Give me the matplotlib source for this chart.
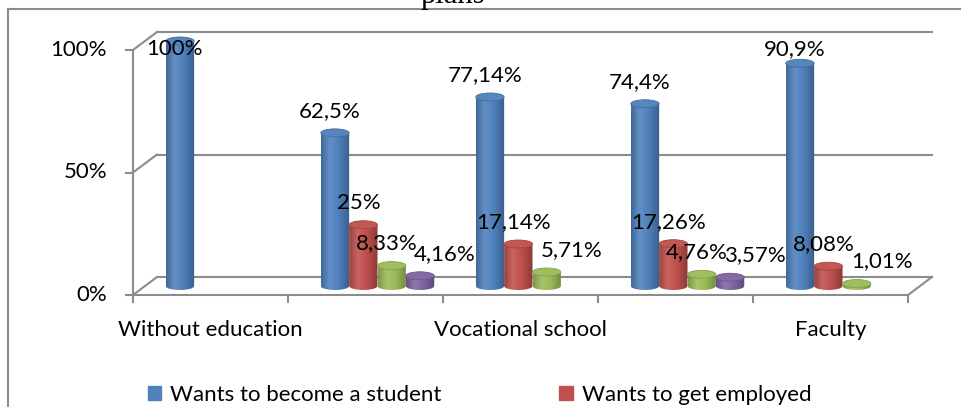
import numpy as np
import matplotlib.pyplot as plt
from matplotlib.colors import LinearSegmentedColormap, to_rgb
from matplotlib.patches import Ellipse, PathPatch, Rectangle
from matplotlib.path import Path
from matplotlib.lines import Line2D

# data
categories = ["Without education", "", "Vocational school", "", "Faculty"]
series_names = ["Wants to become a student", "Wants to get employed", "", ""]
student = [100, 62.5, 77.14, 74.4, 90.9]
employed = [0, 25, 17.14, 17.26, 8.08]
third = [0, 8.33, 5.71, 4.76, 1.01]
fourth = [0, 4.16, 0, 3.57, 0]
series = [student, employed, third, fourth]
colors = ["#4F81BD", "#C0504D", "#9BBB59", "#8064A2"]
y_ticks = [0, 50, 100]

plt.rcParams["font.family"] = ["Lato", "DejaVu Sans"]
FS = 16
GRID = "#8c8c8c"

fig = plt.figure(figsize=(9.62, 4.07), dpi=100)
# axes placed so that 1 category = 155 px, 1 % = 2.45 px
ax = fig.add_axes([86.5 / 962, (407 - 307.25) / 407, 868 / 962, (307.25 - 20.6) / 407])
ax.axis("off")
XL, YL = (-0.3, 5.3), (-5, 112)

dxw, dyw = 24 / 155, 18 / 2.45      # back wall offset
dxb, dyb = 12 / 155, 9 / 2.45       # bars sit at mid depth
w = 0.183
eh = 8 / 2.45


def shade(c, f):
    r = np.array(to_rgb(c))
    return tuple(r * f) if f < 1 else tuple(r + (1 - r) * (f - 1))


def lw_line(xs, ys):
    ax.add_line(Line2D(xs, ys, color=GRID, lw=1.5, zorder=1, clip_on=False))


# walls / floor
for y in y_ticks:
    lw_line([dxw, 5 + dxw], [y + dyw, y + dyw])
    lw_line([0, dxw], [y, y + dyw])
    lw_line([-0.045, 0], [y, y])
    ax.text(-0.168, y, f"{y}%", ha="right", va="center", fontsize=FS)
lw_line([0, 0], [0, 100])
lw_line([0, 5], [0, 0])
lw_line([5, 5 + dxw], [0, dyw])
for i in range(6):
    lw_line([i, i], [0, -2.9])
for i, c in enumerate(categories):
    ax.text(i + 0.5, -14.3, c, ha="center", va="center", fontsize=FS)

# cylinders
for j, (vals, col) in enumerate(zip(series, colors)):
    cmap = LinearSegmentedColormap.from_list(
        f"c{j}", [(0, shade(col, 0.8)), (0.3, shade(col, 1.12)),
                  (0.6, shade(col, 1.0)), (1, shade(col, 0.72))])
    for i, v in enumerate(vals):
        if v <= 0:
            continue
        xc = i + 0.5 + (j - 1.5) * w + dxb
        x0, x1 = xc - w / 2, xc + w / 2
        base, top = dyb, dyb + v
        t = np.linspace(np.pi, 2 * np.pi, 40)
        pts = [(x0, top), (x0, base)] + list(zip(xc + w / 2 * np.cos(t), base + eh / 2 * np.sin(t))) + [(x1, top), (x0, top)]
        codes = [Path.MOVETO] + [Path.LINETO] * (len(pts) - 2) + [Path.CLOSEPOLY]
        body = PathPatch(Path(pts, codes), facecolor="none", edgecolor="none")
        ax.add_patch(body)
        im = ax.imshow(np.linspace(0, 1, 256).reshape(1, -1), cmap=cmap,
                       extent=[x0, x1, base - eh / 2, top], aspect="auto",
                       interpolation="bilinear", zorder=3)
        im.set_clip_path(body)
        ax.add_patch(Ellipse((xc, top), w, eh, facecolor=shade(col, 1.04),
                             edgecolor=shade(col, 0.85), lw=0.6, zorder=3.1))

# data labels
for i in range(len(categories)):
    nonzero = [j for j in range(4) if series[j][i] > 0]
    for j in nonzero:
        v = series[j][i]
        xc = i + 0.5 + (j - 1.5) * w + dxb
        off = 25 / 155 if (j == nonzero[-1] and len(nonzero) > 1) else -5 / 155
        ly = min(dyb + v + 9, 100.4)
        txt = f"{v:g}".replace(".", ",") + "%"
        ax.text(xc + off, ly, txt, ha="center", va="center", fontsize=FS, zorder=5)

ax.set_xlim(*XL)
ax.set_ylim(*YL)

# legend (bottom of the chart is cut off in the reference)
handles = [Rectangle((0, 0), 1, 1, color=c) for c in colors[:2]]
fig.legend(handles, series_names[:2], loc="center left",
           bbox_to_anchor=(148 / 962, (407 - 395) / 407), ncol=2, frameon=False,
           fontsize=FS, handlelength=0.6, handleheight=0.6, handletextpad=0.4,
           columnspacing=5.3, borderpad=0, borderaxespad=0)

# chart border and the cut-off title
fig.add_artist(Line2D([8 / 962, 8 / 962], [0, (407 - 8.5) / 407], color=GRID, lw=1.5))
fig.add_artist(Line2D([8 / 962, 1], [(407 - 8.5) / 407] * 2, color=GRID, lw=1.5))
fig.text(453 / 962, (407 - 3) / 407, "plans", ha="center", va="baseline",
         fontsize=22, family="Liberation Serif")

fig.savefig("out.png", dpi=100)
